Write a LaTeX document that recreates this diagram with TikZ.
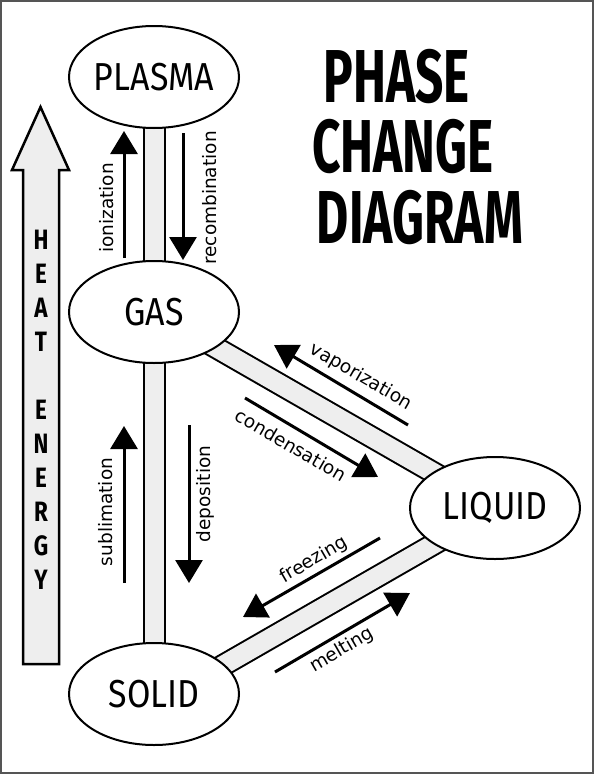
\documentclass[tikz,border=0pt]{standalone}
\usepackage{graphicx}
\usepackage{fontspec}
\setmainfont{DejaVu Sans}
\newfontfamily\handfont{Fira Sans}
\newfontfamily\titlefont{Fira Sans}
\usetikzlibrary{arrows.meta,shapes.geometric,backgrounds,calc}
\definecolor{barfill}{HTML}{EEEEEE}
\definecolor{framecol}{HTML}{555555}
\tikzset{
  phase/.style={ellipse, draw=black, line width=2pt, fill=white,
    minimum width=170pt, minimum height=102pt, inner sep=0pt,
    font=\handfont\fontsize{39}{39}\selectfont},
  bar/.style={draw=black, line width=2pt, double=barfill, double distance=19pt},
  proc/.style={line width=3pt, -{Triangle[width=27pt,length=23pt]}},
  lbl/.style={font=\fontsize{18.5}{18.5}\selectfont, inner sep=0pt},
  ttl/.style={font=\titlefont\bfseries\fontsize{75}{75}\selectfont, anchor=base, inner sep=0pt},
  heat/.style={font=\handfont\bfseries\fontsize{28}{28}\selectfont, inner sep=0pt},
}
\begin{document}
\begin{tikzpicture}[x=1pt,y=-1pt]
\useasboundingbox (0,0) rectangle (594,774);
\draw[framecol, line width=2pt] (1,1) rectangle (593,773);

% title
\node[ttl] (t1) at (396.5,102) {\scalebox{0.66}[1]{PHASE}};
\node[ttl] (t2) at (403,172) {\scalebox{0.66}[1]{CHANGE}};
\node[ttl] (t3) at (420,243) {\scalebox{0.66}[1]{DIAGRAM}};

% heat energy arrow
\draw[line width=2.5pt, fill=barfill, line join=miter]
  (23,664) -- (59,664) -- (59,170) -- (69,170) -- (40.5,107) -- (12,170) -- (23,170) -- cycle;
\foreach \l/\i in {H/0,E/1,A/2,T/3,E/5,N/6,E/7,R/8,G/9,Y/10}
  \node[heat] (heat\i) at (41,240+34*\i) {\scalebox{0.8}[1]{\l}};

% phases
\node[phase] (plasma) at (154,77) {\scalebox{0.87}[1]{PLASMA}};
\node[phase] (gas) at (154,312) {\scalebox{0.87}[1]{GAS}};
\node[phase] (solid) at (154,694) {\scalebox{0.87}[1]{SOLID}};
\node[phase] (liquid) at (495,508) {\scalebox{0.87}[1]{LIQUID}};

\begin{pgfonlayer}{background}
  \draw[bar] (plasma.center) -- (gas.center);
  \draw[bar] (gas.center) -- (solid.center);
  \draw[bar] (gas.center) -- (liquid.center);
  \draw[bar] ($(solid.center)+(0,11)$) -- ($(liquid.center)+(0,1)$);
\end{pgfonlayer}

% process arrows
\draw[proc] (124,258) -- (124,131);
\draw[proc] (183,133) -- (183,260);
\draw[proc] (124,583) -- (124,426);
\draw[proc] (189,425) -- (189,583);
\draw[proc] (408,425) -- (274,345);
\draw[proc] (245,398) -- (378,477);
\draw[proc] (380,538) -- (243,617);
\draw[proc] (275,672) -- (410,593);

% labels
\node[lbl, rotate=90] (lion) at (107,208) {ionization};
\node[lbl, rotate=90] (lrec) at (210,198) {recombination};
\node[lbl, rotate=90] (lsub) at (106,512) {sublimation};
\node[lbl, rotate=90] (ldep) at (205,494) {deposition};
\node[lbl, rotate=-30] (lvap) at (361,377) {vaporization};
\node[lbl, rotate=-30] (lcon) at (291,445) {condensation};
\node[lbl, rotate=30] (lfre) at (314,560) {freezing};
\node[lbl, rotate=30] (lmel) at (342,650) {melting};
\end{tikzpicture}
\end{document}
